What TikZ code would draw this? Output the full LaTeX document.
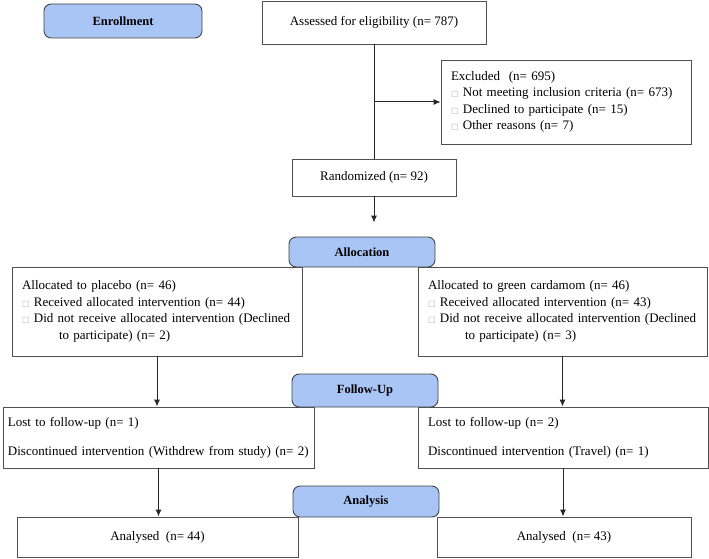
\documentclass[tikz,border=0pt]{standalone}
\usepackage{fontspec}
\usetikzlibrary{arrows.meta}
\setmainfont{Liberation Serif}
\newfontfamily\symfont{DejaVu Sans}
\newcommand{\sqbox}{{\symfont\fontsize{8}{8}\selectfont\color{black!30}□}}
\definecolor{headblue}{RGB}{169,197,245}
\definecolor{boxgray}{RGB}{80,80,80}
\begin{document}
\begin{tikzpicture}[x=1pt,y=-1pt,
			cell/.style={
				rectangle,
				draw=boxgray,
				line width=0.9pt,
				font=\fontsize{13}{16.5}\selectfont,
			},
			head/.style={
				rectangle,
				rounded corners=2.5mm,
				draw=black!75,
				fill=headblue,
				line width=0.9pt,
				minimum width=146pt,
				font=\bfseries\fontsize{12.5}{14}\selectfont,
			},
			ArrowC1/.style={% plain connectors
				line width=1pt,
				black!85,
			},
			]
				\useasboundingbox (0,0) rectangle (709,559);
				% enrollment
				\node[cell, minimum width=224pt, minimum height=43pt] (assess) at (374,22.5) {Assessed for eligibility (n= 787)};
				\node[cell, align=left, text width=230pt, inner xsep=10pt, minimum height=84pt] (excl) at (566,102) {Excluded\ \ (n= 695)\\
					\sqbox\ Not meeting inclusion criteria (n= 673)\\
					\sqbox\ Declined to participate (n= 15)\\
					\sqbox\ Other reasons (n= 7)};
				\node[cell, minimum width=164pt, minimum height=37pt] (rand) at (374,177.5) {Randomized (n= 92)};
				\node[head, minimum width=158pt, minimum height=34pt] (enroll) at (123,21) {Enrollment};
				\coordinate (split) at (assess.south |- excl.west);
				
				\draw[ArrowC1] (assess) -- (rand);
				\draw[-{Latex[length=7pt,width=6pt]},ArrowC1] (split) -- (excl);
				
				% allocation
				\node[cell, align=left, text width=270pt, inner xsep=10pt, minimum height=89pt] (plac) at (157,311.5) {Allocated to placebo (n= 46)\\
					\sqbox\ Received allocated intervention (n= 44)\\
					\sqbox\ Did not receive allocated intervention (Declined\\
					\hspace*{37pt}to participate) (n= 2)};
				\node[cell, align=left, text width=269pt, inner xsep=10pt, minimum height=89pt] (card) at (562.5,311.5) {Allocated to green cardamom (n= 46)\\
					\sqbox\ Received allocated intervention (n= 43)\\
					\sqbox\ Did not receive allocated intervention (Declined\\
					\hspace*{37pt}to participate) (n= 3)};
				\node[head, minimum height=30pt] (alloc) at (362,252) {Allocation};
				
				\draw[-{Latex[length=7pt,width=6pt]},ArrowC1,shorten >=14pt] (rand.south) -- (rand.south |- alloc.north);
				
				% follow-up
				\node[cell, align=left, text width=301pt, inner xsep=5pt, minimum height=61pt] (lostp) at (158.5,437.5) {Lost to follow-up (n= 1)\\[12.5pt]
					Discontinued intervention (Withdrew from study) (n= 2)};
				\node[cell, align=left, text width=270pt, inner xsep=10pt, minimum height=61pt] (lostc) at (563,437.5) {Lost to follow-up (n= 2)\\[12.5pt]
					Discontinued intervention (Travel) (n= 1)};
				\node[head, minimum height=33pt] (follow) at (365,390.5) {Follow-Up};
				
				\draw[-{Latex[length=7pt,width=6pt]},ArrowC1] (plac.south) -- (plac.south |- lostp.north);
				\draw[-{Latex[length=7pt,width=6pt]},ArrowC1] (card.south) -- (card.south |- lostc.north);
				
				% analysis
				\node[cell, minimum width=281pt, minimum height=40pt] (anap) at (157.5,537) {Analysed\ \ (n= 44)};
				\node[cell, minimum width=254pt, minimum height=40pt] (anac) at (564,537) {Analysed\ \ (n= 43)};
				\node[head, minimum height=31pt] (analysis) at (366,501.5) {Analysis};
				
				\draw[-{Latex[length=7pt,width=6pt]},ArrowC1] (lostp.south) -- (lostp.south |- anap.north);
				\draw[-{Latex[length=7pt,width=6pt]},ArrowC1] (lostc.south) -- (lostc.south |- anac.north);
			\end{tikzpicture}
\end{document}
